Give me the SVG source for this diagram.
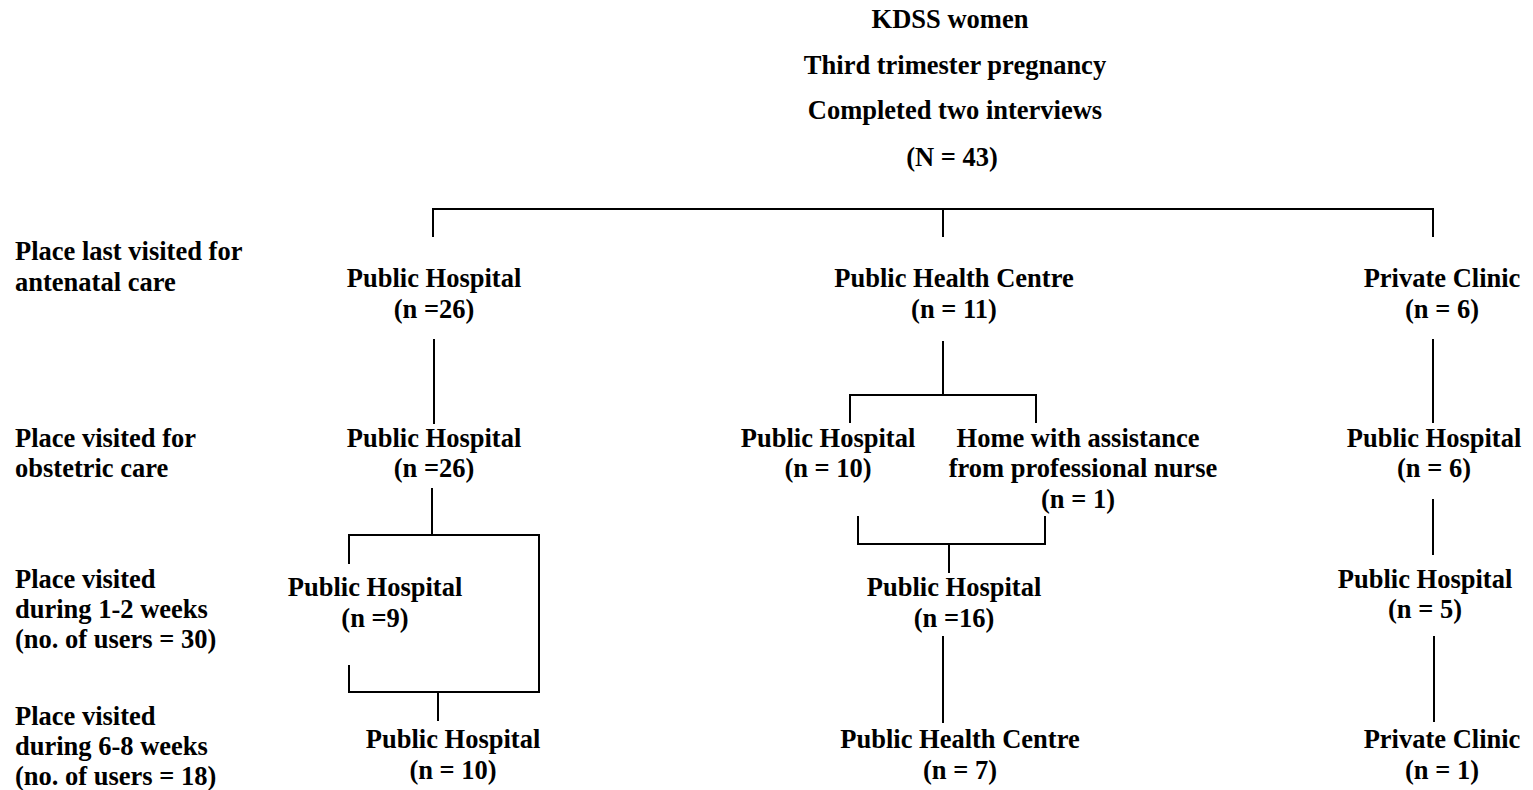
<svg xmlns="http://www.w3.org/2000/svg" width="1533" height="790" viewBox="0 0 1533 790">
  <style>
    text { font-family: "Liberation Serif", "Times New Roman", serif; font-weight: bold; font-size: 26.5px; fill: #000; }
    .c { text-anchor: middle; }
    .l { text-anchor: start; }
    .wire { fill: none; stroke: #000; stroke-width: 2; stroke-linecap: square; }
  </style>
  <rect width="1533" height="790" fill="#fff"/>

  <!-- row headings -->
  <g id="row-labels">
    <text class="l" x="15" y="260">Place last visited for</text>
    <text class="l" x="15" y="291">antenatal care</text>
    <text class="l" x="15" y="447">Place visited for</text>
    <text class="l" x="15" y="477">obstetric care</text>
    <text class="l" x="15" y="588">Place visited</text>
    <text class="l" x="15" y="618">during 1-2 weeks</text>
    <text class="l" x="15" y="648">(no. of users = 30)</text>
    <text class="l" x="15" y="725">Place visited</text>
    <text class="l" x="15" y="755">during 6-8 weeks</text>
    <text class="l" x="15" y="785">(no. of users = 18)</text>
  </g>

  <!-- root -->
  <g id="root">
    <text class="c" x="950" y="28">KDSS women</text>
    <text class="c" x="955" y="74">Third trimester pregnancy</text>
    <text class="c" x="955" y="119">Completed two interviews</text>
    <text class="c" x="952" y="166">(N = 43)</text>
  </g>

  <!-- antenatal care -->
  <g id="anc-public-hospital">
    <text class="c" x="434" y="287">Public Hospital</text>
    <text class="c" x="434" y="318">(n =26)</text>
  </g>
  <g id="anc-public-health-centre">
    <text class="c" x="954" y="287">Public Health Centre</text>
    <text class="c" x="954" y="318">(n = 11)</text>
  </g>
  <g id="anc-private-clinic">
    <text class="c" x="1442" y="287">Private Clinic</text>
    <text class="c" x="1442" y="318">(n = 6)</text>
  </g>

  <!-- obstetric care -->
  <g id="obs-public-hospital-1">
    <text class="c" x="434" y="447">Public Hospital</text>
    <text class="c" x="434" y="477">(n =26)</text>
  </g>
  <g id="obs-public-hospital-2">
    <text class="c" x="828" y="447">Public Hospital</text>
    <text class="c" x="828" y="477">(n = 10)</text>
  </g>
  <g id="obs-home">
    <text class="c" x="1078" y="447">Home with assistance</text>
    <text class="c" x="1083" y="477">from professional nurse</text>
    <text class="c" x="1078" y="508">(n = 1)</text>
  </g>
  <g id="obs-public-hospital-3">
    <text class="c" x="1434" y="447">Public Hospital</text>
    <text class="c" x="1434" y="477">(n = 6)</text>
  </g>

  <!-- 1-2 weeks -->
  <g id="w12-public-hospital-1">
    <text class="c" x="375" y="596">Public Hospital</text>
    <text class="c" x="375" y="627">(n =9)</text>
  </g>
  <g id="w12-public-hospital-2">
    <text class="c" x="954" y="596">Public Hospital</text>
    <text class="c" x="954" y="627">(n =16)</text>
  </g>
  <g id="w12-public-hospital-3">
    <text class="c" x="1425" y="588">Public Hospital</text>
    <text class="c" x="1425" y="618">(n = 5)</text>
  </g>

  <!-- 6-8 weeks -->
  <g id="w68-public-hospital">
    <text class="c" x="453" y="748">Public Hospital</text>
    <text class="c" x="453" y="779">(n = 10)</text>
  </g>
  <g id="w68-public-health-centre">
    <text class="c" x="960" y="748">Public Health Centre</text>
    <text class="c" x="960" y="779">(n = 7)</text>
  </g>
  <g id="w68-private-clinic">
    <text class="c" x="1442" y="748">Private Clinic</text>
    <text class="c" x="1442" y="779">(n = 1)</text>
  </g>

  <!-- connectors -->
  <g id="connectors" class="wire">
    <!-- root split -->
    <path d="M433 236 V209 H1433 V236 M943 209 V236"/>
    <!-- left column -->
    <path d="M434 340 V423"/>
    <path d="M432 489 V535 M349 563 V535 H539 V692 H349 V666 M438 692 V720"/>
    <!-- middle column -->
    <path d="M943 342 V395 M850 422 V395 H1036 V422"/>
    <path d="M858 517 V544 H1045 V517 M949 544 V572"/>
    <path d="M943 637 V722"/>
    <!-- right column -->
    <path d="M1433 340 V422"/>
    <path d="M1433 500 V554"/>
    <path d="M1434 637 V721"/>
  </g>
</svg>
